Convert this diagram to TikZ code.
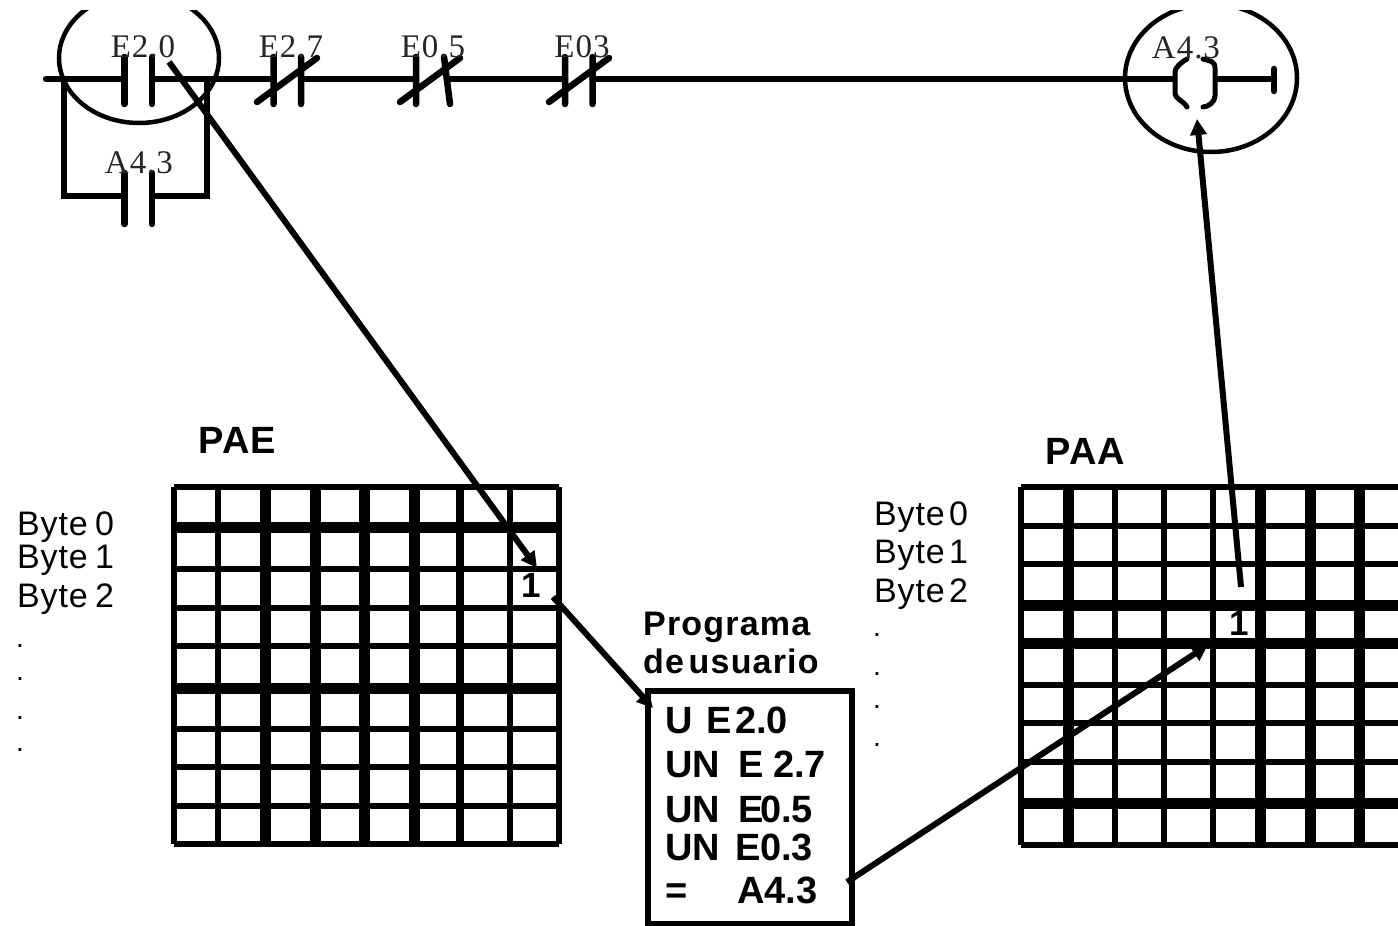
\documentclass[tikz,border=0pt]{standalone}
\usepackage{fontspec}
\setmainfont{Liberation Serif}
\setsansfont{Liberation Sans}
\usetikzlibrary{arrows.meta}
\newfontfamily\spaceserif[LetterSpace=3]{Liberation Serif}
\newfontfamily\spacesans[LetterSpace=2.5]{Liberation Sans}
\newfontfamily\spacesansb[LetterSpace=3.5]{Liberation Sans Bold}
\tikzset{
 rail/.style={line width=6.5pt,line cap=round},
 plate/.style={line width=6.5pt,line cap=round},
 ring/.style={line width=4.5pt},
 ptr/.style={line width=6pt,-{Triangle[length=16pt,width=16pt]}},
 lad/.style={inner sep=0pt,anchor=base,text=black!85,font=\fontsize{33}{33}\selectfont\spaceserif},
 byt/.style={inner sep=0pt,anchor=base west,font=\fontsize{34}{34}\selectfont\spacesans},
 dotlab/.style={inner sep=0pt,anchor=base,font=\fontsize{28}{28}\selectfont\sffamily},
 ttl/.style={inner sep=0pt,anchor=base west,font=\fontsize{38}{38}\selectfont\spacesansb},
 prog/.style={inner sep=0pt,anchor=base west,font=\fontsize{34}{34}\selectfont\spacesansb},
 code/.style={inner sep=0pt,anchor=base west,font=\fontsize{38}{38}\selectfont\sffamily\bfseries},
 one/.style={inner sep=0pt,anchor=base,font=\fontsize{35}{35}\selectfont\sffamily\bfseries},
 gridline/.style={line width=#1pt,line cap=square},
 progbox/.style={draw,line width=6.5pt,outer sep=0pt,minimum width=204pt,minimum height=233pt,inner sep=0pt,anchor=north west}
}
\begin{document}
\begin{tikzpicture}[x=1pt,y=-1pt]
\useasboundingbox (0,0) rectangle (1398,926);
\fill[white] (0,0) rectangle (1398,926);
% PAE grid
\foreach \x/\w in {174/6.5,218/6.5,265/11,315/11,364/11,414/11,460/7.5,510/6.5,559/6.5}
  \draw[gridline=\w] (\x,487) -- (\x,844);
\foreach \y/\w in {487/6.5,527/11,569/6.5,608/6.5,646/6.5,688/11,729/6.5,767/6.5,806/6.5,844/6.5}
  \draw[gridline=\w] (174,\y) -- (559,\y);
% PAA grid
\begin{scope}
\clip (0,0) rectangle (1398,926);
\foreach \x/\w in {1021/6.5,1068/11,1115/6.5,1164/6.5,1213/6.5,1260/11,1310/11,1359/11}
  \draw[gridline=\w] (\x,487) -- (\x,845);
\foreach \y/\w in {487/6.5,526/6.5,564/6.5,605/11,643/11,685/6.5,723/6.5,762/6.5,803/11,845/6.5}
  \draw[gridline=\w] (1021,\y) -- (1400,\y);
\end{scope}
% Ladder rings
\begin{scope}
\clip (0,10) rectangle (1398,926);
\draw[ring] (139,58) ellipse [x radius=80,y radius=65];
\draw[ring] (1211,78) ellipse [x radius=86,y radius=74];
\end{scope}
% Rail
\coordinate (r0) at (46,79);
\coordinate (a1) at (124.5,79); \coordinate (a2) at (152,79);
\coordinate (b1) at (273.5,79); \coordinate (b2) at (301,79);
\coordinate (c1) at (416,79); \coordinate (c2) at (447,79);
\coordinate (d1) at (565,79); \coordinate (d2) at (592.5,79);
\coordinate (e1) at (1173,79); \coordinate (e2) at (1216,79);
\coordinate (e3) at (1274,79);
\draw[rail] (r0) -- (a1) (a2) -- (b1) (b2) -- (c1) (c2) -- (d1) (d2) -- (e1) (e2) -- (e3);
\draw[plate] (1274,69) -- (1274,91);
% Parallel branch
\draw[rail,line cap=butt,line join=miter] (64,79) -- (64,196) -- (124.5,196);
\draw[rail,line cap=butt,line join=miter] (207,79) -- (207,196) -- (152,196);
% Contacts
\draw[plate] (124.5,57) -- (124.5,104) (152,57) -- (152,104);
\draw[plate] (124.5,173) -- (124.5,224) (152,173) -- (152,224);
\draw[plate] (273.5,57) -- (273.5,104) (301,57) -- (301,104) (257,102) -- (317,58);
\draw[plate] (416,57) -- (416,104) (444,57) -- (450,104) (400,102) -- (460,58);
\draw[plate] (565,57) -- (565,104) (592.5,57) -- (592.5,104) (549,102) -- (609,58);
% Coil
\draw[line width=5pt,line cap=round,line join=round]
  (1187,59) .. controls (1180,63) and (1175,68) .. (1175,72) -- (1175,92)
  .. controls (1175,100) and (1183,100) .. (1187,107);
\draw[line width=5pt,line cap=round,line join=round]
  (1203,59) .. controls (1210,61) and (1215,61) .. (1215,68) -- (1215,96)
  .. controls (1215,102) and (1208,107) .. (1203,107);
% Labels on the ladder
\node[lad] (lE20) at (143,57) {E2.0};
\node[lad] (lE27) at (291,57) {E2.7};
\node[lad] (lE05) at (433,57) {E0.5};
\node[lad] (lE03) at (582,57) {E03};
\node[lad] (lA43) at (139,173) {A4.3};
\node[lad] (lA43b) at (1186,58) {A4.3};
% Grid titles and rows
\node[ttl] (pae) at (198,453) {PAE};
\node[ttl] (paa) at (1045,464) {PAA};
\node[byt] (l0) at (17,535) {Byte\hspace{-3pt} 0};
\node[byt] (l1) at (17,568) {Byte\hspace{-3pt} 1};
\node[byt] (l2) at (17,607) {Byte\hspace{-3pt} 2};
\node[dotlab] (ld1) at (20,647) {.};
\node[dotlab] (ld2) at (20,680) {.};
\node[dotlab] (ld3) at (20,719) {.};
\node[dotlab] (ld4) at (20,751) {.};
\node[byt] (r0l) at (874,525) {Byte\hspace{-6pt} 0};
\node[byt] (r1l) at (874,563) {Byte\hspace{-6pt} 1};
\node[byt] (r2l) at (874,602) {Byte\hspace{-6pt} 2};
\node[dotlab] (rd1) at (877,636) {.};
\node[dotlab] (rd2) at (877,675) {.};
\node[dotlab] (rd3) at (877,708) {.};
\node[dotlab] (rd4) at (877,746) {.};
\node[one] (oneE) at (531,597) {1};
\node[one] (oneA) at (1239,635) {1};
% Program box
\node[prog] (pr1) at (643,635) {Programa};
\node[prog] (pr2) at (643,673) {de\hspace{-6pt} usuario};
\node[progbox] (box) at (648,691) {};
\node[code] (c1l) at (665,733) {\makebox[41pt][l]{U}\makebox[29pt][l]{E}2.0};
\node[code] (c2l) at (665,777) {\makebox[73pt][l]{UN}\makebox[35pt][l]{E}2.7};
\node[code] (c3l) at (665,822) {\makebox[73pt][l]{UN}\makebox[22pt][l]{E}0.5};
\node[code] (c4l) at (665,860) {\makebox[70pt][l]{UN}\makebox[25pt][l]{E}0.3};
\node[code] (c5l) at (665,903) {\makebox[72pt][l]{=}A4.3};
% Pointers
\coordinate (s1) at (169,62);
\coordinate (t1) at (537,568);
\coordinate (s2) at (553,597);
\coordinate (s3) at (847,882);
\coordinate (t3) at (1208,645);
\coordinate (s4) at (1241,587);
\coordinate (t4) at (1197,119);
\draw[ptr] (s1) -- (t1);
\draw[ptr] (s2) -- ([shift={(5,17)}]box.north west);
\draw[ptr] (s3) -- (t3);
\draw[ptr] (s4) -- (t4);
\end{tikzpicture}
\end{document}
